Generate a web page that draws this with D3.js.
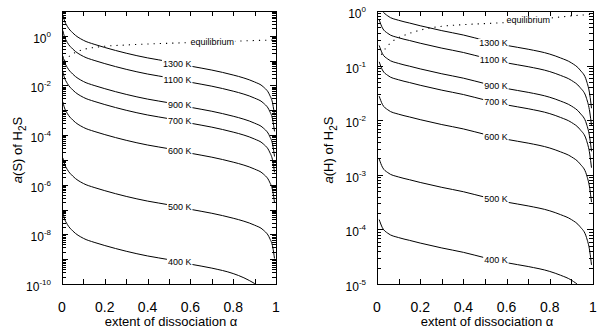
<!DOCTYPE html>
<html>
<head>
<meta charset="utf-8">
<script src="https://cdn.jsdelivr.net/npm/d3@7"></script>
<style>
body { margin: 0; background: #fff; }
svg { display: block; }
text { font-family: "Liberation Sans Narrow", "Arial Narrow", "Liberation Sans", Arial, sans-serif; fill: #000; }
</style>
</head>
<body>
<svg id="chart" width="606" height="330"></svg>
<script>
// extent of dissociation (x) for the isotherms
const alphaS = [0.004, 0.01, 0.025, 0.05, 0.1, 0.15, 0.2, 0.3, 0.4, 0.5, 0.6, 0.7, 0.8, 0.85, 0.9, 0.94, 0.97, 0.985, 0.993];
const alphaH = [0.01, 0.025, 0.05, 0.1, 0.15, 0.2, 0.3, 0.4, 0.5, 0.6, 0.7, 0.8, 0.85, 0.9, 0.94, 0.97, 0.985, 0.993];
const temps = ['1300 K', '1100 K', '900 K', '700 K', '600 K', '500 K', '400 K'];

// log10 a(S)
const logS1300 = [0.85, 0.65, 0.38, 0.12, -0.18, -0.34, -0.47, -0.70, -0.89, -1.04, -1.22, -1.38, -1.58, -1.70, -1.86, -2.05, -2.38, -2.75, -3.20];
const logS1100 = [0.21, 0.01, -0.27, -0.53, -0.83, -0.99, -1.12, -1.35, -1.54, -1.69, -1.87, -2.03, -2.23, -2.35, -2.51, -2.70, -3.03, -3.40, -3.85];
const logS900 = [-0.81, -1.01, -1.28, -1.54, -1.84, -2.00, -2.13, -2.36, -2.55, -2.70, -2.88, -3.04, -3.24, -3.36, -3.52, -3.71, -4.04, -4.41, -4.86];
const logS700 = [-1.45, -1.65, -1.92, -2.18, -2.48, -2.64, -2.77, -3.00, -3.19, -3.34, -3.52, -3.68, -3.88, -4.00, -4.16, -4.35, -4.68, -5.05, -5.50];
const logS600 = [-2.66, -2.86, -3.13, -3.39, -3.69, -3.85, -3.98, -4.21, -4.40, -4.55, -4.73, -4.89, -5.09, -5.21, -5.37, -5.56, -5.89, -6.26, -6.71];
const logS500 = [-4.92, -5.12, -5.39, -5.65, -5.95, -6.11, -6.24, -6.47, -6.66, -6.81, -6.99, -7.15, -7.35, -7.47, -7.63, -7.82, -8.15, -8.52, -8.97];
const logS400 = [-7.13, -7.33, -7.60, -7.86, -8.16, -8.32, -8.45, -8.68, -8.87, -9.02, -9.20, -9.36, -9.58, -9.75, -9.98, -10.2, -10.5, -10.9, -11.3];

// log10 a(H)
const logH1300 = [0.16, 0.01, -0.09, -0.17, -0.22, -0.27, -0.36, -0.44, -0.54, -0.63, -0.70, -0.79, -0.86, -0.95, -1.08, -1.28, -1.53, -1.78];
const logH1100 = [-0.16, -0.31, -0.41, -0.49, -0.54, -0.59, -0.68, -0.76, -0.86, -0.95, -1.02, -1.11, -1.18, -1.27, -1.40, -1.60, -1.85, -2.10];
const logH900 = [-0.63, -0.78, -0.88, -0.96, -1.01, -1.06, -1.15, -1.23, -1.33, -1.42, -1.49, -1.58, -1.65, -1.74, -1.87, -2.07, -2.32, -2.57];
const logH700 = [-0.93, -1.08, -1.18, -1.26, -1.31, -1.36, -1.45, -1.53, -1.63, -1.72, -1.79, -1.88, -1.95, -2.04, -2.17, -2.37, -2.62, -2.87];
const logH600 = [-1.56, -1.71, -1.81, -1.89, -1.94, -1.99, -2.08, -2.16, -2.26, -2.35, -2.42, -2.51, -2.58, -2.67, -2.80, -3.00, -3.25, -3.50];
const logH500 = [-2.71, -2.86, -2.96, -3.04, -3.09, -3.14, -3.23, -3.31, -3.41, -3.50, -3.57, -3.66, -3.73, -3.82, -3.95, -4.15, -4.40, -4.65];
const logH400 = [-3.82, -3.97, -4.07, -4.15, -4.20, -4.25, -4.34, -4.42, -4.52, -4.61, -4.68, -4.77, -4.84, -4.93, -5.06, -5.26, -5.51, -5.76];

// equilibrium (dotted) curves
const eqAlphaS = [0.01, 0.03, 0.06, 0.1, 0.15, 0.2, 0.3, 0.4, 0.5, 0.6, 0.7, 0.8, 0.9, 1.0];
const eqLogS = [-1.00, -0.85, -0.68, -0.55, -0.47, -0.42, -0.37, -0.33, -0.30, -0.27, -0.24, -0.22, -0.19, -0.17];
const eqAlphaH = [0.02, 0.04, 0.07, 0.1, 0.15, 0.2, 0.3, 0.4, 0.5, 0.6, 0.7, 0.8, 0.9, 1.0];
const eqLogH = [-0.80, -0.68, -0.56, -0.49, -0.41, -0.35, -0.28, -0.25, -0.23, -0.21, -0.17, -0.13, -0.09, -0.06];

const xTicks = [0, 0.2, 0.4, 0.6, 0.8, 1];
const sExps = [0, -2, -4, -6, -8, -10];
const hExps = [0, -1, -2, -3, -4, -5];

const svg = d3.select('#chart');

function drawPanel(cfg) {
    const x = d3.scaleLinear().domain([0, 1]).range([cfg.x0, cfg.x1]);
    const y = d3.scaleLog().domain(cfg.domain).range([cfg.y1, cfg.y0]);
    const g = svg.append('g');

    const clipId = 'clip' + cfg.id;
    svg.append('clipPath').attr('id', clipId)
        .append('rect')
        .attr('x', cfg.x0).attr('y', cfg.y0)
        .attr('width', cfg.x1 - cfg.x0).attr('height', cfg.y1 - cfg.y0);

    const line = d3.line()
        .x(d => x(d[0]))
        .y(d => y(Math.pow(10, d[1])))
        .curve(d3.curveMonotoneX);

    const plot = g.append('g').attr('clip-path', `url(#${clipId})`);

    cfg.curves.forEach((c, i) => {
        const pts = cfg.alpha.map((a, j) => [a, c[j]]);
        plot.append('path')
            .attr('d', line(pts))
            .attr('fill', 'none')
            .attr('stroke', '#000')
            .attr('stroke-width', 1);
    });

    const eqPts = cfg.eqAlpha.map((a, j) => [a, cfg.eqLog[j]]);
    plot.append('path')
        .attr('d', line(eqPts))
        .attr('fill', 'none')
        .attr('stroke', '#000')
        .attr('stroke-width', 1.1)
        .attr('stroke-dasharray', '1.2,5');

    // isotherm labels sit on the curve, breaking it
    const labelG = g.append('g');
    function putLabel(txt, ax, logv, anchor) {
        const t = labelG.append('text')
            .attr('x', x(ax))
            .attr('y', y(Math.pow(10, logv)))
            .attr('dy', '0.35em')
            .attr('text-anchor', anchor)
            .style('font-family', '"Liberation Sans", Arial, sans-serif')
            .style('font-size', '9px')
            .text(txt);
        const bb = t.node().getBBox();
        labelG.insert('rect', () => t.node())
            .attr('x', bb.x - 1).attr('y', bb.y + 1)
            .attr('width', bb.width + 2).attr('height', bb.height - 2)
            .attr('fill', '#fff');
    }
    const labelAt = 0.54;
    cfg.curves.forEach((c, i) => {
        const v = d3.scaleLinear().domain(cfg.alpha).range(c)(labelAt);
        putLabel(temps[i], 0.605, v, 'end');
    });
    const ev = d3.scaleLinear().domain(cfg.eqAlpha).range(cfg.eqLog)(0.7);
    putLabel('equilibrium', 0.6, ev, 'start');

    // frame
    g.append('rect')
        .attr('x', cfg.x0 + 0.5).attr('y', cfg.y0 + 0.5)
        .attr('width', cfg.x1 - cfg.x0).attr('height', cfg.y1 - cfg.y0)
        .attr('fill', 'none').attr('stroke', '#000');

    // x ticks, inward, top and bottom
    const xt = d3.range(0, 11).map(i => i / 10);
    xt.forEach(v => {
        const px = Math.round(x(v)) + 0.5;
        g.append('line').attr('x1', px).attr('x2', px)
            .attr('y1', cfg.y1).attr('y2', cfg.y1 - 5).attr('stroke', '#000');
        g.append('line').attr('x1', px).attr('x2', px)
            .attr('y1', cfg.y0).attr('y2', cfg.y0 + 5).attr('stroke', '#000');
    });
    xTicks.forEach(v => {
        g.append('text')
            .attr('x', x(v)).attr('y', cfg.y1 + 28)
            .attr('text-anchor', 'middle')
            .style('font-size', '14px')
            .text(d3.format('~g')(v));
    });

    // y ticks, inward, left and right
    const lo = Math.log10(cfg.domain[0]), hi = Math.log10(cfg.domain[1]);
    for (let e = lo; e < hi; e++) {
        for (let k = 1; k <= 9; k++) {
            const py = Math.round(y(k * Math.pow(10, e))) + 0.5;
            const len = k === 1 ? 6 : 4;
            g.append('line').attr('x1', cfg.x0).attr('x2', cfg.x0 + len)
                .attr('y1', py).attr('y2', py).attr('stroke', '#000');
            g.append('line').attr('x1', cfg.x1).attr('x2', cfg.x1 - len)
                .attr('y1', py).attr('y2', py).attr('stroke', '#000');
        }
    }
    cfg.exps.forEach(e => {
        const t = g.append('text')
            .attr('x', cfg.x0 - cfg.labelGap)
            .attr('y', y(Math.pow(10, e)) + 7)
            .attr('text-anchor', 'end')
            .style('font-size', '12px');
        t.append('tspan').text('10');
        t.append('tspan').attr('dy', -6).style('font-size', '8px').text(e === 0 ? '0' : '-' + (-e));
    });

    // axis titles
    const xt2 = g.append('text')
        .attr('x', (cfg.x0 + cfg.x1) / 2 + 2).attr('y', 326)
        .attr('text-anchor', 'middle')
        .style('font-size', '13px');
    xt2.append('tspan').text('extent of dissociation  ');
    xt2.append('tspan').text('\u03b1');

    const yt = g.append('text')
        .attr('transform', `translate(${cfg.titleX},150) rotate(-90)`)
        .attr('text-anchor', 'middle')
        .style('font-size', '13px');
    yt.append('tspan').style('font-style', 'italic').text('a');
    yt.append('tspan').text(`(${cfg.el}) of H`);
    yt.append('tspan').attr('dy', 4).style('font-size', '10px').text('2');
    yt.append('tspan').attr('dy', -4).text('S');
}

drawPanel({
    id: 'S', x0: 62, x1: 276, y0: 11, y1: 284,
    domain: [1e-10, 10], exps: sExps, labelGap: 11, titleX: 22, el: 'S',
    alpha: alphaS,
    curves: [logS1300, logS1100, logS900, logS700, logS600, logS500, logS400],
    eqAlpha: eqAlphaS, eqLog: eqLogS
});

drawPanel({
    id: 'H', x0: 377, x1: 593, y0: 11, y1: 284,
    domain: [1e-5, 1], exps: hExps, labelGap: 11, titleX: 333, el: 'H',
    alpha: alphaH,
    curves: [logH1300, logH1100, logH900, logH700, logH600, logH500, logH400],
    eqAlpha: eqAlphaH, eqLog: eqLogH
});
</script>
</body>
</html>
